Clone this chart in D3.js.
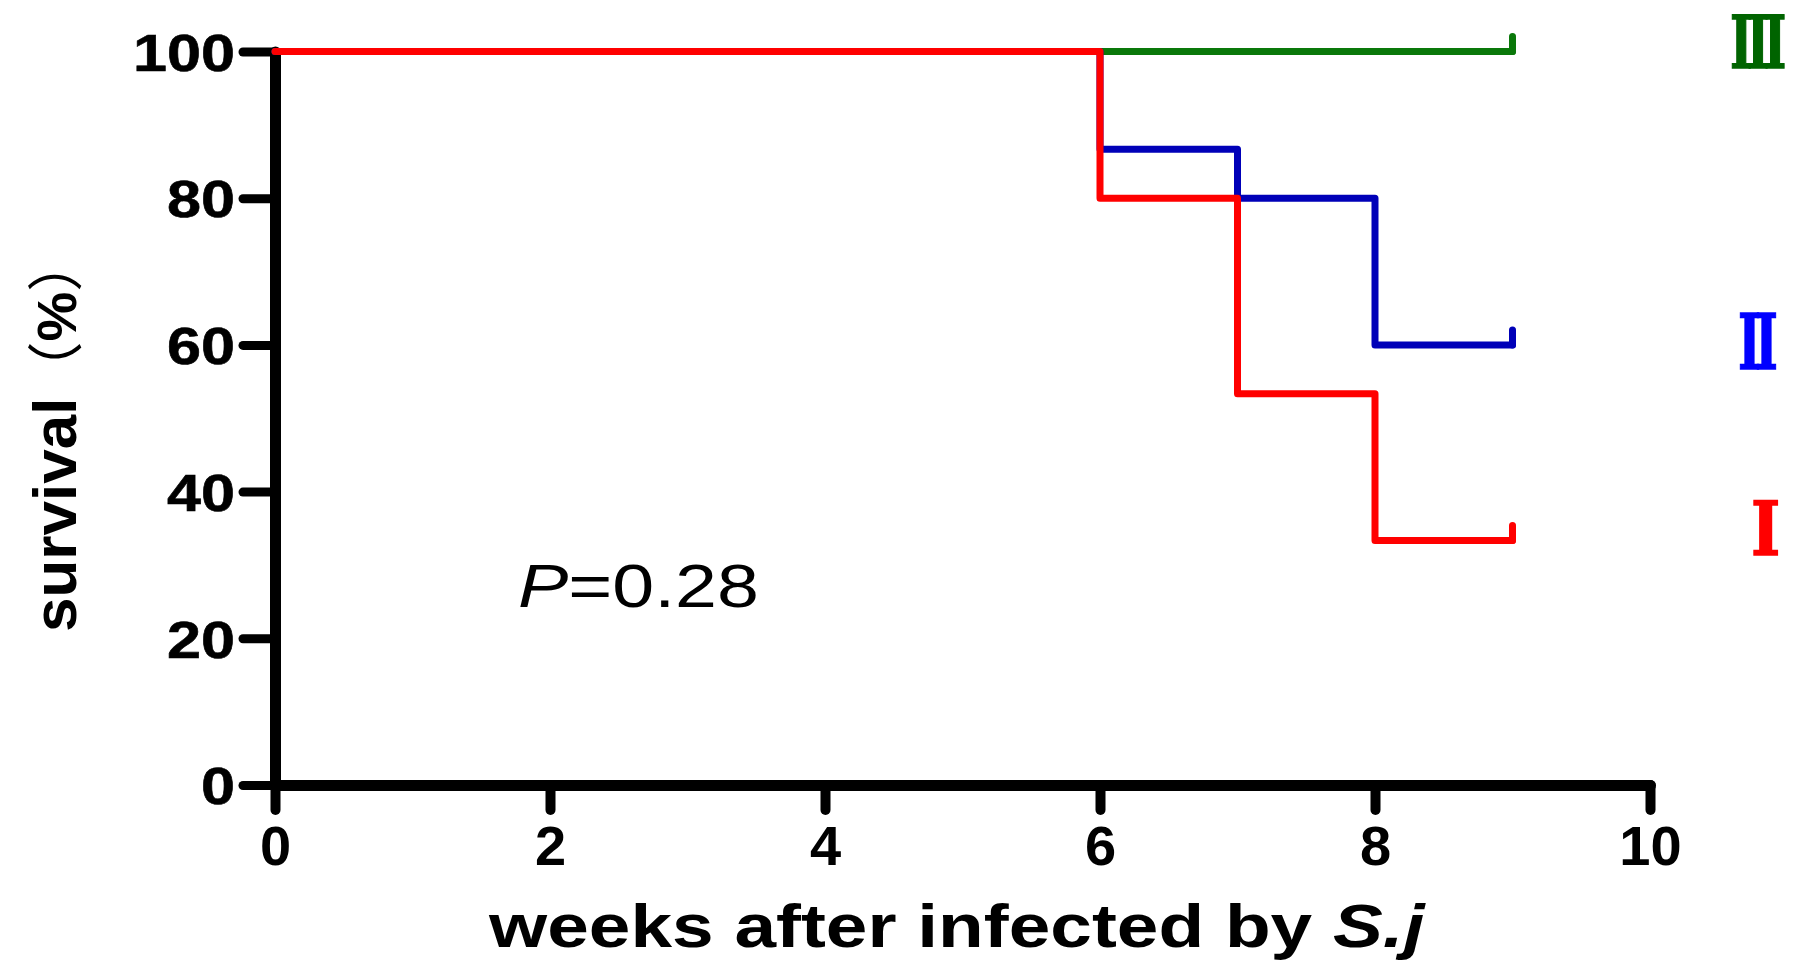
<!DOCTYPE html>
<html>
<head>
<meta charset="utf-8">
<script src="https://cdn.jsdelivr.net/npm/d3@7"></script>
<style>
  html, body { margin: 0; padding: 0; background: #fff; }
  svg { display: block; }
</style>
</head>
<body>
<svg id="chart" width="1797" height="960"></svg>
<script>
// Kaplan–Meier style survival curves, three groups
const weeks = [0, 6, 7, 8, 9];
const survivalI = [100, 80, 53.33, 33.33, 33.33];
const survivalII = [100, 86.67, 80, 60, 60];
const survivalIII = [100, 100, 100, 100, 100];
const groupNames = ["I", "II", "III"];
const xTickValues = [0, 2, 4, 6, 8, 10];
const yTickValues = [0, 20, 40, 60, 80, 100];
const pValueText = "=0.28";

const svg = d3.select("#chart");

const x = d3.scaleLinear().domain([0, 10]).range([275, 1650]);
const y = d3.scaleLinear().domain([0, 100]).range([785, 51.5]);

// Stretch a text element horizontally so it spans [x0, x1], baseline at yb
function fitText(sel, x0, x1, yb) {
  const w = sel.node().getBBox().width;
  sel.attr("transform", `translate(${x0},${yb}) scale(${(x1 - x0) / w},1)`);
}

// Axes
const yAxis = d3.axisLeft(y).tickValues(yTickValues).tickSize(32).tickSizeOuter(0).tickPadding(8);
const xAxis = d3.axisBottom(x).tickValues(xTickValues).tickSize(25).tickSizeOuter(0).tickPadding(10);

const gy = svg.append("g").attr("transform", `translate(${x(0)},0)`).call(yAxis);
gy.select(".domain").attr("stroke", "#000").attr("stroke-width", 11).attr("stroke-linecap", "round");
gy.selectAll(".tick line").attr("stroke", "#000").attr("stroke-width", 9).attr("stroke-linecap", "round");
gy.selectAll(".tick text")
  .attr("font-family", "'Liberation Sans', Arial, sans-serif")
  .attr("font-weight", "bold")
  .attr("font-size", 52)
  .attr("fill", "#000")
  .attr("stroke", "#000")
  .attr("stroke-width", 0.6)
  .attr("dy", "0.36em")
  .attr("textLength", d => String(d).length * 34)
  .attr("lengthAdjust", "spacingAndGlyphs");

const gx = svg.append("g").attr("transform", `translate(0,${y(0)})`).call(xAxis);
gx.select(".domain").attr("stroke", "#000").attr("stroke-width", 11).attr("stroke-linecap", "round");
gx.selectAll(".tick line").attr("stroke", "#000").attr("stroke-width", 10).attr("stroke-linecap", "round");
gx.selectAll(".tick text")
  .attr("font-family", "'Liberation Sans', Arial, sans-serif")
  .attr("font-weight", "bold")
  .attr("font-size", 56)
  .attr("fill", "#000")
  .attr("y", 80)
  .attr("dy", 0);

// Survival step curves
const line = d3.line()
  .x((d, i) => x(weeks[i]))
  .y(d => y(d))
  .curve(d3.curveStepAfter);

const series = [
  { values: survivalIII, color: "#0a780a" },
  { values: survivalII, color: "#0000b8" },
  { values: survivalI, color: "#ff0000" }
];

const gLines = svg.append("g");
series.forEach(s => {
  gLines.append("path")
    .attr("d", line(s.values))
    .attr("fill", "none")
    .attr("stroke", s.color)
    .attr("stroke-width", 7)
    .attr("stroke-linejoin", "round")
    .attr("stroke-linecap", "round");
  // censor mark at the last observation
  const lastX = x(weeks[weeks.length - 1]);
  const lastY = y(s.values[s.values.length - 1]);
  gLines.append("line")
    .attr("x1", lastX).attr("x2", lastX)
    .attr("y1", lastY).attr("y2", lastY - 15)
    .attr("stroke", s.color)
    .attr("stroke-width", 7)
    .attr("stroke-linecap", "round");
});

// Roman-numeral group labels on the right (slab serifs merge into bars)
const labelSpecs = [
  { text: groupNames[2], color: "#006400", cx: 1760, width: 57, base: 68, size: 73 },
  { text: groupNames[1], color: "#0000ff", cx: 1760, width: 41, base: 369, size: 77 },
  { text: groupNames[0], color: "#ff0000", cx: 1764.5, width: 23, base: 555, size: 75 }
];
labelSpecs.forEach(l => {
  const ls = -0.12 * l.size;
  const t = svg.append("text")
    .attr("x", 0)
    .attr("y", 0)
    .attr("font-family", "'DejaVu Serif', serif")
    .attr("font-weight", "bold")
    .attr("font-size", l.size)
    .attr("letter-spacing", ls)
    .attr("fill", l.color)
    .attr("stroke", l.color)
    .attr("stroke-width", 1.5)
    .text(l.text);
  const bb = t.node().getBBox();
  const w = bb.width - (l.text.length > 1 ? ls : 0) - 0.06 * l.size;
  const sx = l.width / w;
  const mid = bb.x + (bb.width - (l.text.length > 1 ? ls : 0)) / 2;
  t.attr("transform", `translate(${l.cx},${l.base}) scale(${sx},1) translate(${-mid},0)`);
});

// P value annotation
const pText = svg.append("text")
  .attr("font-family", "'Liberation Sans', Arial, sans-serif")
  .attr("font-size", 61)
  .attr("fill", "#000");
pText.append("tspan").attr("font-style", "italic").text("P");
pText.append("tspan").text(pValueText);
fitText(pText, 518, 759, 607);

// X axis title
const xTitle = svg.append("text")
  .attr("font-family", "'Liberation Sans', Arial, sans-serif")
  .attr("font-weight", "bold")
  .attr("font-size", 61)
  .attr("fill", "#000");
xTitle.append("tspan").text("weeks after infected by ");
xTitle.append("tspan").attr("font-style", "italic").text("S.j");
fitText(xTitle, 489, 1427, 947);

// Y axis title
const yTitle = svg.append("text")
  .attr("transform", "translate(76,632) rotate(-90)")
  .attr("text-anchor", "start")
  .attr("fill", "#000");
yTitle.append("tspan")
  .attr("font-family", "'Liberation Sans', Arial, sans-serif")
  .attr("font-weight", "bold")
  .attr("font-size", 62)
  .text("survival");
yTitle.append("tspan")
  .attr("font-family", "'Noto Sans CJK SC', sans-serif")
  .attr("font-size", 56)
  .text("（");
yTitle.append("tspan")
  .attr("font-family", "'Liberation Sans', Arial, sans-serif")
  .attr("font-weight", "bold")
  .attr("font-size", 56)
  .text("%");
yTitle.append("tspan")
  .attr("font-family", "'Noto Sans CJK SC', sans-serif")
  .attr("font-size", 56)
  .text("）");
</script>
</body>
</html>
